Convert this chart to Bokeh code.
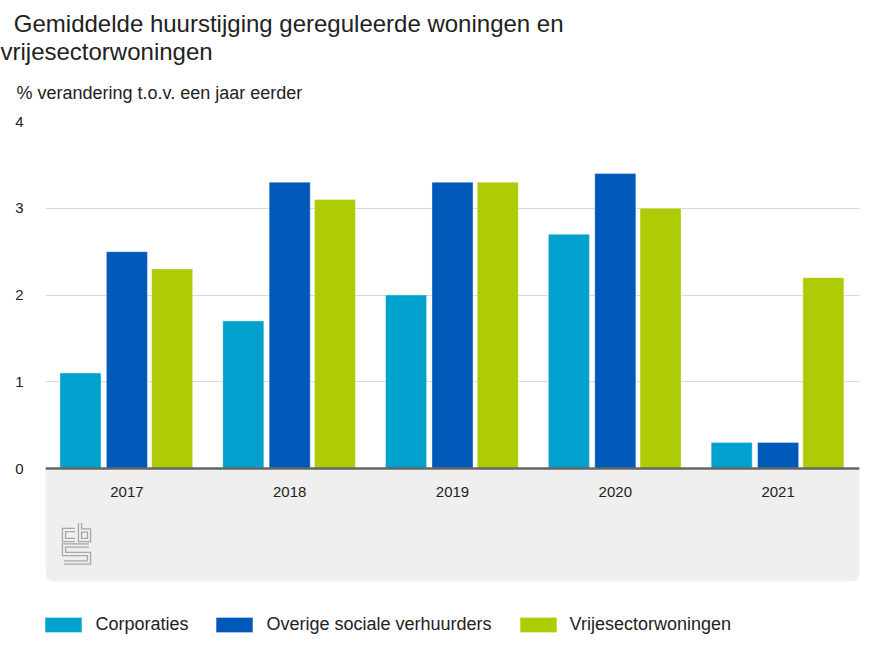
from bokeh.plotting import figure
from bokeh.models import (FactorRange, Range1d, FixedTicker, BoxAnnotation, Span, Title,
                          ColumnDataSource)
from bokeh.transform import dodge
from bokeh.core.properties import value
from bokeh.embed import file_html
from bokeh.resources import INLINE

# ---- data ----
years = ["2017", "2018", "2019", "2020", "2021"]
corporaties = [1.1, 1.7, 2.0, 2.7, 0.3]
overige = [2.5, 3.3, 3.3, 3.4, 0.3]
vrijesector = [2.3, 3.1, 3.3, 3.0, 2.2]
series_names = ["Corporaties", "Overige sociale verhuurders", "Vrijesectorwoningen"]
y_ticks = [0, 1, 2, 3, 4]

title_line1 = "Gemiddelde huurstijging gereguleerde woningen en"
title_line2 = "vrijesectorwoningen"
subtitle = "% verandering t.o.v. een jaar eerder"

# ---- style ----
colors = ["#00a1cd", "#0058b8", "#afcb05"]
FONT = "Liberation Sans"
TXT = "#222222"
W, H = 866, 648
LEFT, RIGHT, TOP = 45, 7, 121
FRAME_H = H - TOP
px_per_unit = 86.75
y_top = 4.0
y_bottom = y_top - FRAME_H / px_per_unit

source = ColumnDataSource(dict(year=years, c=corporaties, o=overige, v=vrijesector))

p = figure(width=W, height=H, x_range=FactorRange(*years), y_range=Range1d(y_bottom, y_top),
           x_axis_location=None, toolbar_location=None, output_backend="svg",
           min_border_left=LEFT, min_border_right=RIGHT, min_border_top=TOP, min_border_bottom=0,
           outline_line_color=None, background_fill_color="white", border_fill_color="white")

# titles (closest to the frame first)
p.add_layout(Title(text=subtitle, text_font=FONT, text_font_size="18px", text_font_style="normal",
                   text_color=TXT, align="left", vertical_align="top", offset=16 - LEFT,
                   standoff=33), "above")
p.add_layout(Title(text="\u00a0\u00a0" + title_line1 + "\n" + title_line2, text_font=FONT,
                   text_font_size="24px", text_font_style="normal", text_line_height=1.05,
                   text_color=TXT, align="left", vertical_align="top", offset=0 - LEFT,
                   standoff=0), "above")

# gray footer panel
panel = BoxAnnotation(top=0, bottom=-113 / px_per_unit, fill_color="#efefef", fill_alpha=1,
                      line_color=None, border_radius=(0, 0, 8, 8), level="underlay")
p.add_layout(panel)

# y axis / grid
p.yaxis.ticker = FixedTicker(ticks=y_ticks)
p.yaxis.axis_line_color = None
p.yaxis.major_tick_line_color = None
p.yaxis.minor_tick_line_color = None
p.yaxis.major_tick_out = 0
p.yaxis.major_tick_in = 0
p.yaxis.major_label_text_font = FONT
p.yaxis.major_label_text_font_size = "15px"
p.yaxis.major_label_text_color = TXT
p.yaxis.major_label_standoff = 22
p.xgrid.visible = False
p.ygrid.ticker = FixedTicker(ticks=y_ticks)
p.ygrid.grid_line_color = "#d9d9d9"
p.ygrid.grid_line_width = 1

# bars
bw = 0.252
offsets = [-0.285, 0.0, 0.278]
for col, name, color, off in zip(["c", "o", "v"], series_names, colors, offsets):
    p.vbar(x=dodge("year", off, range=p.x_range), top=col, width=bw, bottom=0, source=source,
           fill_color=color, line_color="white", line_alpha=0.35, line_width=1,
           legend_label=name)

# baseline
p.add_layout(Span(location=0, dimension="width", line_color="#666666", line_width=2.7))

# year labels
p.text(x="year", y=-23.5 / px_per_unit, text="year", source=source, text_font=value(FONT),
       text_font_size="15px", text_color=TXT, text_align="center", text_baseline="middle")

# cbs logo (decorative)
def fx(px):
    return (px - 45) / 162.8

def fy(py):
    return (468 - py) / px_per_unit

logo_paths = [
    [(74.5, 529.5), (63.5, 529.5), (63.5, 539.5), (74.5, 539.5)],
    [(79.5, 522.5), (79.5, 539.5), (88.5, 539.5), (88.5, 530.0), (79.5, 530.0)],
    [(88.5, 545.0), (63.5, 545.0), (63.5, 553.5), (88.5, 553.5), (88.5, 562.0), (63.5, 562.0)],
]
lxs = [[fx(a) for a, b in path] for path in logo_paths]
lys = [[fy(b) for a, b in path] for path in logo_paths]
p.multi_line(lxs, lys, line_color="#a8a8a8", line_width=4.5, line_join="miter", line_cap="butt")
p.multi_line(lxs, lys, line_color="#efefef", line_width=1.8, line_join="miter", line_cap="butt")

# legend
lg = p.legend[0]
lg.location = (-4.6, 13)
lg.orientation = "horizontal"
lg.glyph_width = 46
lg.glyph_height = 19
lg.label_height = 19
lg.label_standoff = 9
lg.spacing = 23
lg.padding = 0
lg.margin = 0
lg.background_fill_alpha = 0
lg.border_line_alpha = 0
lg.label_text_font = FONT
lg.label_text_font_size = "18px"
lg.label_text_color = TXT

open("out.html", "w").write(file_html(p, INLINE))
